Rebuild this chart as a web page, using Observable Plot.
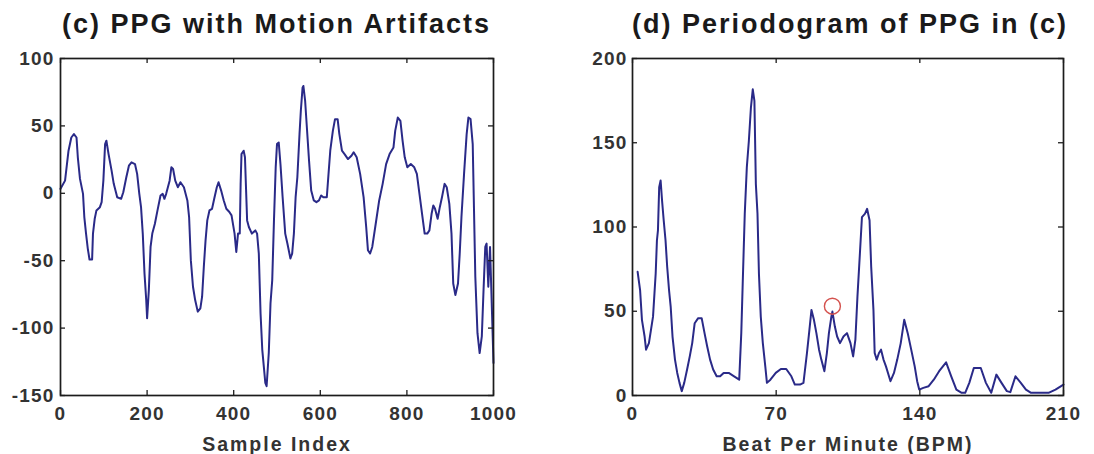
<!DOCTYPE html>
<html>
<head>
<meta charset="utf-8">
<script src="https://cdn.jsdelivr.net/npm/d3@7"></script>
<script src="https://cdn.jsdelivr.net/npm/@observablehq/plot@0.6"></script>
<style>
  html, body { margin: 0; padding: 0; background: #ffffff; }
  #wrap { position: relative; width: 1094px; height: 454px; overflow: hidden;
          font-family: "Liberation Sans", Arial, Helvetica, sans-serif; }
  .panel { position: absolute; top: 0; width: 547px; height: 454px; }
  .title { position: absolute; top: 11px; height: 29px; font-weight: bold; font-size: 27px;
           line-height: 27px; letter-spacing: 2px; color: #1a1a1a; text-align: center; white-space: nowrap; }
  .chart { position: absolute; top: 40px; left: 0; }
</style>
</head>
<body>
<div id="wrap">
  <div class="panel" id="pL" style="left:0px">
    <div class="title" id="tL" style="left:60px;width:433px"></div>
    <div class="chart" id="cL"></div>
  </div>
  <div class="panel" id="pR" style="left:547px">
    <div class="title" id="tR" style="left:85px;width:431px"></div>
    <div class="chart" id="cR"></div>
  </div>
</div>
<script>
// ---------- Panel (c): PPG with motion artifacts ----------
const ppgTitle = "(c) PPG with Motion Artifacts";
const ppgXLabel = "Sample Index";
const ppgXTicks = [0, 200, 400, 600, 800, 1000];
const ppgYTicks = [-150, -100, -50, 0, 50, 100];
const ppgIndex = [
  0,10.5,18.5,25,31,37,40,45,52,55,
  59,63,67,73,75,79,83,91,95,99,
  103,106,111,118,123,131,140,145,152,158,
  164,172,177,182,186,190,194,198,200,204,
  208,212,218,224,231,236,240,244,252,256,
  260,265,271,277,285,293,297,301,306,311,
  317,323,327,331,335,339,344,350,355,361,
  365,371,377,383,390,395,402,406,410,414,
  416,418,423,426,431,435,442,450,454,458,
  462,466,473,476,481,485,489,493,497,500,
  504,508,513,519,524,531,535,539,543,547,
  552,555,559,561,565,569,574,579,585,591,
  597,602,607,615,619,623,629,634,640,644,
  650,656,664,672,677,684,692,700,706,710,
  715,720,728,736,744,752,760,769,773,779,
  785,790,795,801,809,817,823,829,835,841,
  847,852,857,861,865,871,876,881,887,892,
  898,903,907,912,918,922,926,932,938,942,
  947,952,955,958,963,968,973,977,981,984,
  988,992,995,1000
];
const ppgValue = [
  3.3,9.4,31.6,41.4,43.9,41.4,26.7,10.7,-0.4,-17.6,
  -29.9,-41,-49.1,-49.1,-29.9,-18.9,-12.7,-10.3,-6.6,9.4,
  36.5,39,29.1,16.8,7,-2.9,-4.1,0.8,11.9,20.5,
  23,21.7,14.4,-0.4,-10.3,-29.9,-59.5,-79.2,-92.7,-71.8,
  -39.8,-29.9,-22.6,-12.7,-1.6,-0.4,-4.1,-0.4,9.4,19.3,
  18,9.4,4.5,8.2,4.5,-5.3,-17.6,-49.6,-69.3,-79.2,
  -87.8,-85.3,-76.7,-54.5,-34.9,-20.1,-12.7,-11.5,-4.1,4.5,
  8.2,2,-5.3,-11.5,-13.9,-16.4,-29.9,-43.5,-29.9,-29.9,
  7,29.1,31.6,26.7,-20.1,-25,-29.9,-27.5,-29.9,-44.7,
  -89,-116.1,-140.7,-143.1,-118.5,-81.6,-64.4,-20.1,19.3,36.5,
  37.7,21.7,-2.9,-29.9,-37.3,-48.4,-44.7,-29.9,-2.9,11.9,
  43.9,61.1,78.3,79.6,68.5,48.8,24.2,2,-5.3,-6.6,
  -5.3,-1.6,-2.9,-2.9,14.4,31.6,46.3,55,55,43.9,
  31.6,29.1,25.4,27.9,30.4,26.7,14.4,-2.9,-25,-42.2,
  -44.7,-39.8,-22.6,-5.3,7,21.7,29.1,34,46.3,56.2,
  53.7,39,26.7,19.3,21.7,19.3,14.4,-0.4,-15.2,-29.9,
  -29.9,-27.5,-15.2,-9,-11.5,-18.9,-10.3,-2.9,7,4.5,
  -7.8,-29.9,-66.9,-75.5,-66.9,-44.7,-17.6,14.4,43.9,56.2,
  55,36.5,-12.7,-61.9,-103.8,-118.5,-106.2,-71.8,-39.8,-37.3,
  -69.3,-39.8,-71.8,-125.9
];

// ---------- Panel (d): Periodogram ----------
const perTitle = "(d) Periodogram of PPG in (c)";
const perXLabel = "Beat Per Minute (BPM)";
const perXTicks = [0, 70, 140, 210];
const perYTicks = [0, 50, 100, 150, 200];
const perBpm = [
  2.5,3.7,4.6,5.9,6.6,8,9,10,10.7,11.3,
  11.9,12.4,13,13.7,14.4,15.2,16.1,16.9,17.8,18.6,
  19.5,20.7,21.8,22.9,24,25.2,26.6,27.9,29.1,30.3,
  32,33.7,35.1,36.4,37.8,39.3,41,42.7,44.4,46.9,
  49.5,52,53,53.7,54.7,55.7,56.7,57.7,58.6,59.4,
  60.1,60.9,61.6,62.5,63.5,64.7,65.5,67.2,69.8,72.3,
  74.9,77.4,79.1,81.6,83.3,85,86.2,87.2,88.4,89.6,
  90.9,92,93.5,94.7,95.7,96.9,97.4,98.6,99.7,101.1,
  102.8,104.5,106.2,107.5,108.6,109.6,110.8,111.8,113.3,114.3,
  115.5,116.3,117.4,118,119,120.1,121.1,122.3,123.5,125.7,
  127.4,129,130.7,132.4,134.1,135.8,137.5,138.7,139.7,141.7,
  144.3,146.8,149.4,152.8,155.3,157.8,160.4,162.1,164.1,166.3,
  169.7,172.2,174.8,177.3,179.8,182.4,184.1,186.6,189.2,191.7,
  194.2,199.3,202.7,206.1,210
];
const perPower = [
  73.4,62.6,44.9,35,27.2,31.1,39,46.8,60.6,72.4,
  92,98,123.6,127.6,115.7,104,92,76.4,62.6,52.8,
  35,21.3,13.4,7.5,2.6,7.5,15.4,23.2,31.1,42.9,
  45.9,45.9,37,29.1,21.3,15.4,11.4,11.4,13.4,13.4,
  11.4,9.4,37,66.5,107.9,135.4,151.2,170.9,181.7,174.8,
  125.6,107.9,72.4,46.8,31.1,17.3,7.5,9.4,13.4,15.7,
  15.7,11.4,6.5,6.5,7.5,25.2,39,50.8,44.9,37,
  27.2,21.3,14.4,25.2,37,46.8,49.8,40.9,35,31.1,
  35,37,31.1,23.2,33.1,58.7,84.3,105.9,107.9,110.8,
  104,76.4,50.8,25.2,21.3,25.2,27.2,21.3,17.3,8.5,
  13.4,21.3,31.1,44.9,37,27.2,17.3,8.5,3.5,4.5,
  5.5,9.4,14.4,19.7,11.4,3.5,1.6,1.6,7.5,16.3,
  16.3,7.5,1.6,12.4,7.5,2.6,2,11.4,7.5,3.5,
  1.6,1.6,1.6,3.5,6.5
];
const markerBpm = [97.4];
const markerPower = [53];

// ---------- drawing ----------
const LINE = "#2a2a88";
const FRAME = "#1c1c1c";
const TEXT = "#333333";
const W = 547, H = 414, MT = 18, MB = 59, TICK = 5;

function panel({xDomain, yDomain, xTicks, yTicks, series, xLabel, mL, mR, yPad, extra = []}) {
  const innerW = W - mL - mR, innerH = H - MT - MB;
  const fmt = d => String(d);
  const svg = Plot.plot({
    width: W, height: H,
    marginLeft: mL, marginRight: mR, marginTop: MT, marginBottom: MB,
    style: {fontFamily: "'Liberation Sans', Arial, Helvetica, sans-serif", fontSize: "19px",
            fontWeight: "bold", color: TEXT, background: "transparent", letterSpacing: "1.2px"},
    x: {domain: xDomain},
    y: {domain: yDomain},
    marks: [
      Plot.line(series, {x: "x", y: "y", stroke: LINE, strokeWidth: 2}),
      ...extra,
      Plot.tickX(xTicks, {x: d => d, insetTop: innerH - TICK, stroke: FRAME, strokeWidth: 1.3}),
      Plot.tickX(xTicks, {x: d => d, insetBottom: innerH - TICK, stroke: FRAME, strokeWidth: 1.3}),
      Plot.tickY(yTicks, {y: d => d, insetRight: innerW - TICK, stroke: FRAME, strokeWidth: 1.3}),
      Plot.tickY(yTicks, {y: d => d, insetLeft: innerW - TICK, stroke: FRAME, strokeWidth: 1.3}),
      Plot.frame({stroke: FRAME, strokeWidth: 1.7}),
      Plot.axisX(xTicks, {anchor: "bottom", tickSize: 0, tickPadding: 11, tickFormat: fmt, label: null}),
      Plot.axisY(yTicks, {anchor: "left", tickSize: 0, tickPadding: yPad, tickFormat: fmt, label: null}),
      Plot.text([xLabel], {frameAnchor: "bottom", dy: 49.5, lineAnchor: "middle", fontSize: 19.5, fill: TEXT})
    ]
  });
  svg.querySelectorAll('g[aria-label="text"] text').forEach(t => { t.style.letterSpacing = "2px"; });
  return svg;
}

const ppg = ppgIndex.map((x, i) => ({x, y: ppgValue[i]}));
const per = perBpm.map((x, i) => ({x, y: perPower[i]}));
const marker = markerBpm.map((x, i) => ({x, y: markerPower[i]}));

document.getElementById("tL").textContent = ppgTitle;
document.getElementById("tR").textContent = perTitle;

document.getElementById("cL").append(panel({
  xDomain: [0, 1000], yDomain: [-150, 100], xTicks: ppgXTicks, yTicks: ppgYTicks,
  series: ppg, xLabel: ppgXLabel, mL: 60, mR: 54, yPad: 6
}));

document.getElementById("cR").append(panel({
  xDomain: [0, 210], yDomain: [0, 200], xTicks: perXTicks, yTicks: perYTicks,
  series: per, xLabel: perXLabel, mL: 85, mR: 31, yPad: 5,
  extra: [Plot.dot(marker, {x: "x", y: "y", r: 8, stroke: "#d4524e", strokeWidth: 1.4, fill: "none"})]
}));
</script>
</body>
</html>
